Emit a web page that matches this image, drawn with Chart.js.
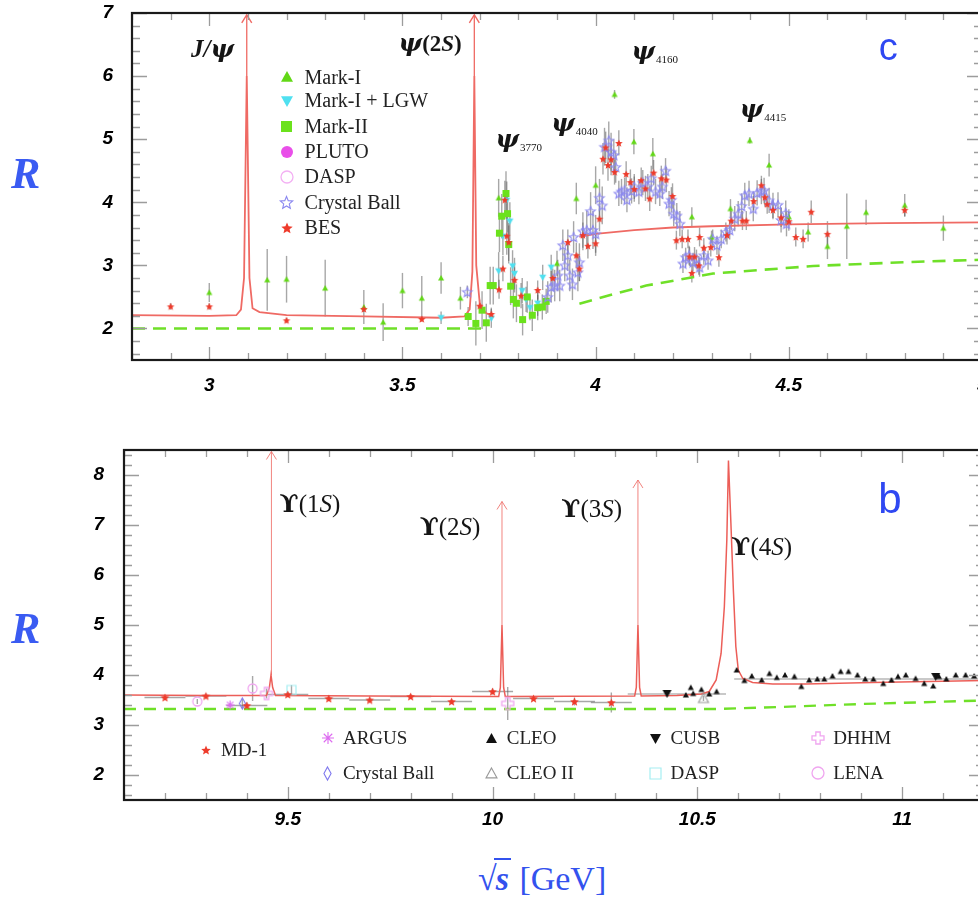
<!DOCTYPE html>
<html>
<head>
<meta charset="utf-8">
<script src="https://cdn.jsdelivr.net/npm/chart.js@4.4.1/dist/chart.umd.min.js"></script>
<style>
  html, body { margin: 0; padding: 0; background: #fff; width: 978px; height: 910px; overflow: hidden; }
  body { position: relative; }
  #graficoTopo { position: absolute; left: 0; top: 0; }
  #graficoBaixo { position: absolute; left: 0; top: 440px; }
  .letraR { position: absolute; left: 11px; font: bold italic 44px "Liberation Serif", serif; color: #3a5bf2; }
  #tituloX { position: absolute; left: 478px; top: 860px; font: 34px "Liberation Serif", serif; color: #3352ee; white-space: nowrap; }
  #tituloX .raiz { font-weight: bold; }
  #tituloX .s { font-weight: bold; font-style: italic; border-top: 2.5px solid #3352ee; margin-left: -3px; padding: 0 2px; }
</style>
</head>
<body>
<canvas id="graficoTopo" width="990" height="400"></canvas>
<canvas id="graficoBaixo" width="990" height="400"></canvas>
<div class="letraR" style="top:148px">R</div>
<div class="letraR" style="top:603px">R</div>
<div id="tituloX"><span class="raiz">√</span><span class="s">s</span> [GeV]</div>
<script>
// Eixos
var topXTicks = [3, 3.5, 4, 4.5, 5];
var topYTicks = [2, 3, 4, 5, 6, 7];
var bottomXTicks = [9.5, 10, 10.5, 11];
var bottomYTicks = [2, 3, 4, 5, 6, 7, 8];

// Painel de cima (charmonium): [sqrt(s), R, erro]
var markI = [[3.00,2.57,0.15],[3.15,2.77,0.49],[3.20,2.78,0.37],[3.30,2.64,0.45],[3.40,2.34,0.27],[3.45,2.10,0.30],
  [3.50,2.60,0.28],[3.55,2.48,0.35],[3.60,2.80,0.25],[3.65,2.48,0.18],[3.749,4.07,0.30],[3.90,3.03,0.20],[3.95,4.06,0.25],
  [4.00,4.27,0.30],[4.049,5.71,0.07],[4.099,4.96,0.20],[4.148,4.77,0.25],[4.249,3.77,0.15],[4.30,3.45,0.10],[4.349,3.90,0.15],
  [4.399,4.98,0.05],[4.449,4.59,0.18],[4.50,3.77,0.12],[4.55,3.53,0.15],[4.60,3.30,0.20],[4.65,3.62,0.52],[4.70,3.84,0.20],
  [4.80,3.95,0.18],[4.90,3.59,0.20]];
var markILGW = [[3.60,2.17,0.10],[3.73,2.16,0.15],[3.749,2.91,0.30],[3.76,3.46,0.30],[3.77,4.03,0.30],[3.778,3.70,0.30],
  [3.785,2.99,0.25],[3.79,2.87,0.25],[3.81,2.60,0.20],[3.82,2.46,0.20],[3.83,2.33,0.20],[3.85,2.40,0.20],[3.863,2.81,0.20],
  [3.885,2.97,0.20]];
var markII = [[3.67,2.19,0.15],[3.69,2.08,0.35],[3.706,2.29,0.30],[3.717,2.09,0.30],[3.727,2.68,0.30],[3.735,2.68,0.30],
  [3.751,3.51,0.30],[3.757,3.78,0.35],[3.768,4.14,0.35],[3.772,3.82,0.30],[3.775,3.33,0.30],[3.780,2.67,0.30],[3.787,2.46,0.30],
  [3.795,2.40,0.30],[3.811,2.14,0.25],[3.823,2.50,0.25],[3.836,2.21,0.25],[3.850,2.33,0.20],[3.862,2.34,0.20],[3.872,2.43,0.20]];
var pluto = [];
var dasp = [];
var crystalBall = [[3.668,2.58,0.10],[3.876,2.50,0.25],[3.885,2.66,0.25],[3.894,2.68,0.25],[3.902,2.84,0.25],[3.907,2.68,0.25],
  [3.915,3.32,0.25],[3.920,3.00,0.25],[3.928,3.16,0.25],[3.933,2.84,0.25],[3.940,2.70,0.25],[3.943,3.45,0.25],[3.954,2.89,0.30],
  [3.958,3.05,0.30],[3.967,3.54,0.30],[3.977,3.56,0.30],[3.987,3.86,0.30],[3.993,3.56,0.30],[4.000,3.50,0.30],[4.010,4.07,0.30],
  [4.017,3.95,0.30],[4.023,4.88,0.30],[4.034,4.98,0.30],[4.040,4.80,0.30],[4.047,4.75,0.25],[4.052,4.56,0.25],[4.060,4.14,0.20],
  [4.067,4.17,0.20],[4.075,4.19,0.20],[4.081,4.04,0.20],[4.093,4.18,0.20],[4.100,4.25,0.20],[4.112,4.17,0.20],[4.122,4.31,0.20],
  [4.135,4.25,0.20],[4.144,4.38,0.20],[4.155,4.17,0.20],[4.166,4.14,0.20],[4.173,4.25,0.20],[4.181,4.50,0.20],[4.190,3.98,0.20],
  [4.196,4.04,0.20],[4.202,3.82,0.20],[4.210,3.79,0.20],[4.218,3.66,0.20],[4.226,3.03,0.15],[4.233,3.13,0.15],[4.242,3.16,0.15],
  [4.252,3.05,0.15],[4.261,3.10,0.15],[4.269,2.97,0.15],[4.280,3.16,0.15],[4.291,3.08,0.15],[4.303,3.42,0.15],[4.314,3.32,0.15],
  [4.325,3.42,0.15],[4.337,3.53,0.15],[4.347,3.56,0.15],[4.360,3.74,0.20],[4.369,3.82,0.20],[4.378,3.94,0.20],[4.386,4.11,0.20],
  [4.397,4.14,0.20],[4.408,3.90,0.20],[4.418,4.15,0.20],[4.429,4.17,0.20],[4.436,4.19,0.20],[4.449,4.03,0.20],[4.459,3.95,0.20],
  [4.472,3.96,0.20],[4.480,3.72,0.20],[4.492,3.83,0.20],[4.494,3.66,0.20]];
var bes = [[2.90,2.35,0.05],[3.00,2.35,0.05],[3.20,2.13,0.04],[3.40,2.31,0.05],[3.55,2.15,0.04],[3.70,2.36,0.10],[3.73,2.23,0.10],
  [3.75,2.62,0.15],[3.76,2.95,0.20],[3.765,4.04,0.30],[3.77,3.47,0.30],[3.775,3.37,0.30],[3.79,2.77,0.20],[3.807,2.52,0.20],
  [3.85,2.61,0.15],[3.889,2.80,0.15],[3.928,3.37,0.20],[3.95,3.16,0.20],[3.958,2.95,0.20],[3.967,3.48,0.20],[3.98,3.31,0.20],
  [4.00,3.35,0.20],[4.01,3.74,0.20],[4.019,4.69,0.25],[4.026,4.87,0.25],[4.032,4.59,0.25],[4.04,4.68,0.25],[4.049,4.48,0.20],
  [4.06,4.94,0.20],[4.079,4.45,0.20],[4.09,4.32,0.20],[4.10,4.21,0.20],[4.118,4.35,0.20],[4.129,4.22,0.20],[4.14,4.06,0.20],
  [4.15,4.47,0.20],[4.17,4.38,0.20],[4.183,4.36,0.20],[4.199,4.10,0.20],[4.209,3.40,0.15],[4.224,3.42,0.15],[4.239,3.42,0.15],
  [4.243,3.14,0.15],[4.249,2.88,0.15],[4.256,3.14,0.15],[4.267,3.00,0.15],[4.269,3.45,0.15],[4.28,3.28,0.15],[4.298,3.29,0.15],
  [4.319,3.13,0.15],[4.34,3.48,0.15],[4.351,3.71,0.15],[4.38,3.71,0.15],[4.39,3.71,0.15],[4.409,4.02,0.15],[4.429,4.27,0.15],
  [4.438,4.08,0.15],[4.444,3.97,0.15],[4.459,3.88,0.15],[4.48,3.76,0.15],[4.50,3.70,0.15],[4.518,3.45,0.15],[4.537,3.42,0.15],
  [4.558,3.85,0.18],[4.60,3.50,0.20],[4.80,3.88,0.10]];
// curvas teoricas (null = interrupcao)
var topCurve = [[2.80,2.21],[3.00,2.20],[3.07,2.21],[3.082,2.30],[3.090,2.80],[3.097,6.00],[3.104,2.80],[3.112,2.32],[3.13,2.26],
  [3.20,2.21],[3.40,2.19],[3.60,2.17],[3.66,2.19],[3.674,2.30],[3.681,2.90],[3.686,6.00],[3.691,3.00],[3.700,2.40],[3.715,2.25],
  [3.73,2.20],[3.80,null],[3.958,3.45],[4.00,3.50],[4.10,3.56],[4.20,3.60],[4.30,3.62],[4.50,3.65],[4.75,3.67],[5.00,3.68]];
var topDashed = [[2.80,2.00],[3.717,2.00],[3.80,null],[3.958,2.39],[4.05,2.55],[4.131,2.68],[4.304,2.87],[4.563,2.99],[4.80,3.05],[5.00,3.09]];
var topArrows = [[3.097,6.0,6.97],[3.686,6.0,6.97]];

// Painel de baixo (bottomonium): [sqrt(s), R, erroY, erroX]
var md1 = [[9.20,3.55,0.05,0.05],[9.30,3.58,0.05,0.05],[9.40,3.39,0.06,0.05],[9.50,3.61,0.05,0.05],[9.60,3.53,0.05,0.05],
  [9.70,3.50,0.05,0.05],[9.80,3.57,0.05,0.05],[9.90,3.47,0.05,0.05],[10.00,3.67,0.06,0.05],[10.10,3.53,0.05,0.05],
  [10.20,3.47,0.08,0.05],[10.29,3.45,0.20,0.05]];
var argus = [[9.359,3.40,0.03]];
var crystalBallB = [[9.389,3.43,0.10]];
var cleo = [[10.472,3.60,0.03],[10.484,3.75,0.03],[10.490,3.63,0.03],[10.510,3.71,0.03],[10.529,3.62,0.03],[10.547,3.67,0.03],
  [10.596,4.10,0.03],[10.615,3.89,0.03],[10.633,3.98,0.03],[10.657,3.90,0.03],[10.676,4.03,0.03],[10.694,3.95,0.03],
  [10.714,4.00,0.03],[10.737,3.97,0.03],[10.754,3.77,0.03],[10.773,3.90,0.03],[10.793,3.92,0.03],[10.810,3.92,0.03],
  [10.830,3.98,0.03],[10.850,4.07,0.03],[10.869,4.07,0.03],[10.891,4.00,0.03],[10.910,3.92,0.03],[10.930,3.92,0.03],
  [10.954,3.83,0.03],[10.974,3.90,0.03],[10.990,3.97,0.03],[11.009,4.00,0.03],[11.033,3.93,0.03],[11.054,3.83,0.03],
  [11.076,3.78,0.03],[11.090,3.97,0.03],[11.108,3.92,0.03],[11.131,4.00,0.03],[11.155,4.00,0.03],[11.176,3.98,0.03]];
var cleoII = [[10.515,3.53,0.05]];
var cusb = [[10.426,3.63,0.05],[11.082,3.97,0.05]];
var daspB = [[9.509,3.70,0.10]];
var dhhm = [[9.448,3.63,0.10],[10.037,3.43,0.33]];
var lena = [[9.279,3.47,0.05],[9.414,3.73,0.25]];
var bottomCurve = [[9.10,3.60],[9.30,3.59],[9.448,3.59],[9.455,3.75],[9.459,4.00],[9.463,3.75],[9.470,3.59],[9.70,3.58],
  [10.015,3.57],[10.019,3.75],[10.023,5.00],[10.027,3.75],[10.031,3.57],[10.347,3.58],[10.351,3.75],[10.355,5.00],
  [10.359,3.75],[10.363,3.58],[10.45,3.59],[10.51,3.62],[10.529,3.67],[10.546,3.90],[10.558,4.43],[10.566,5.37],
  [10.572,6.70],[10.576,8.29],[10.582,7.03],[10.588,5.70],[10.594,4.57],[10.600,4.10],[10.611,3.93],[10.635,3.85],
  [10.684,3.82],[10.765,3.82],[10.928,3.85],[11.20,3.89]];
var bottomDashed = [[9.10,3.32],[10.55,3.32],[10.70,3.36],[10.90,3.42],[11.20,3.49]];
var bottomArrows = [[9.460,4.0,8.47],[10.023,5.0,7.47],[10.355,5.0,7.9]];
var bottomBands = [[10.33,10.57,3.62],[10.59,11.20,3.92]];

// Marcadores desenhados em canvas (usados como pointStyle)
function makeMarker(shape, size, fill, stroke, lw) {
  var c = document.createElement("canvas");
  c.width = c.height = Math.ceil(size + 4);
  var g = c.getContext("2d");
  var m = c.width / 2, r = size / 2, i, a;
  g.beginPath();
  if (shape == "star") {
    for (i = 0; i < 10; i++) {
      a = -Math.PI / 2 + i * Math.PI / 5;
      var rr = i % 2 ? r * 0.45 : r;
      g.lineTo(m + rr * Math.cos(a), m + 0.5 + rr * Math.sin(a));
    }
    g.closePath();
  } else if (shape == "tri") {
    g.moveTo(m, m - r); g.lineTo(m + r, m + r * 0.8); g.lineTo(m - r, m + r * 0.8); g.closePath();
  } else if (shape == "triDown") {
    g.moveTo(m, m + r); g.lineTo(m + r, m - r * 0.8); g.lineTo(m - r, m - r * 0.8); g.closePath();
  } else if (shape == "square") {
    g.rect(m - r, m - r, size, size);
  } else if (shape == "circle") {
    g.arc(m, m, r, 0, 2 * Math.PI);
  } else if (shape == "diamond") {
    g.moveTo(m, m - r); g.lineTo(m + r * 0.55, m); g.lineTo(m, m + r); g.lineTo(m - r * 0.55, m); g.closePath();
  } else if (shape == "plus") {
    var t = r * 0.36;
    g.moveTo(m - t, m - r); g.lineTo(m + t, m - r); g.lineTo(m + t, m - t); g.lineTo(m + r, m - t);
    g.lineTo(m + r, m + t); g.lineTo(m + t, m + t); g.lineTo(m + t, m + r); g.lineTo(m - t, m + r);
    g.lineTo(m - t, m + t); g.lineTo(m - r, m + t); g.lineTo(m - r, m - t); g.lineTo(m - t, m - t); g.closePath();
  } else if (shape == "asterisk") {
    for (i = 0; i < 4; i++) {
      a = i * Math.PI / 4;
      g.moveTo(m - r * Math.cos(a), m - r * Math.sin(a));
      g.lineTo(m + r * Math.cos(a), m + r * Math.sin(a));
    }
  }
  if (fill) { g.fillStyle = fill; g.fill(); }
  if (stroke) { g.strokeStyle = stroke; g.lineWidth = lw || 1; g.stroke(); }
  return c;
}

var cor = {
  markI: "#62d816", lgw: "#4fe0f0", markII: "#6be21c", pluto: "#e94fe9", dasp: "#f3b0f3",
  cb: "#8b88f0", bes: "#ee3b2b", argus: "#dd6cf0", cleoII: "#9a9a9a", daspB: "#a6eef2", dhhm: "#f0a6f0"
};

function pts(arr) {
  return arr.map(function (p) { return { x: p[0], y: p[1] }; });
}
function col(arr, k) {
  return arr.map(function (p) { return p[k] || 0; });
}
function linha(arr) {
  return arr.map(function (p) { return { x: p[0], y: p[1] }; });
}
function setas(arr) {
  var out = [];
  arr.forEach(function (a) {
    out.push({ x: a[0], y: a[1] }, { x: a[0], y: a[2] }, { x: a[0] + 0.001, y: null });
  });
  return out;
}
function faixas(arr) {
  var out = [];
  arr.forEach(function (b) {
    out.push({ x: b[0], y: b[2] }, { x: b[1], y: b[2] }, { x: b[1] + 0.001, y: null });
  });
  return out;
}
function pontos(label, arr, marker, comErroX) {
  return {
    label: label, data: pts(arr), errY: col(arr, 2), errX: comErroX ? col(arr, 3) : null,
    pointStyle: marker, pointRadius: 3, showLine: false
  };
}

// Plugin: barras de erro
var barrasErro = {
  id: "barrasErro",
  beforeDatasetsDraw: function (chart) {
    var ctx = chart.ctx, xs = chart.scales.x, ys = chart.scales.y, a = chart.chartArea;
    ctx.save();
    ctx.beginPath(); ctx.rect(a.left, a.top, a.width, a.height); ctx.clip();
    ctx.strokeStyle = "rgba(95,95,95,0.55)";
    ctx.lineWidth = 1.4;
    chart.data.datasets.forEach(function (ds) {
      if (!ds.errY) return;
      ds.data.forEach(function (p, i) {
        var px = xs.getPixelForValue(p.x), py = ys.getPixelForValue(p.y);
        var ey = ds.errY[i], ex = ds.errX ? ds.errX[i] : 0;
        ctx.beginPath();
        if (ey) { ctx.moveTo(px, ys.getPixelForValue(p.y - ey)); ctx.lineTo(px, ys.getPixelForValue(p.y + ey)); }
        if (ex) { ctx.moveTo(xs.getPixelForValue(p.x - ex), py); ctx.lineTo(xs.getPixelForValue(p.x + ex), py); }
        ctx.stroke();
      });
    });
    ctx.restore();
  }
};

// Plugin: moldura com marcas para dentro
var moldura = {
  id: "moldura",
  afterDraw: function (chart, args, opts) {
    var ctx = chart.ctx, a = chart.chartArea, xs = chart.scales.x, ys = chart.scales.y, k, v, p, len;
    function ehMaior(lista, val) {
      return lista.some(function (t) { return Math.abs(t - val) < 1e-6; });
    }
    ctx.save();
    ctx.strokeStyle = "#9c9c9c";
    ctx.lineWidth = 1.3;
    ctx.beginPath();
    for (k = Math.ceil(xs.min / opts.xMinor - 1e-6); k * opts.xMinor <= xs.max + 1e-6; k++) {
      v = k * opts.xMinor;
      p = Math.round(xs.getPixelForValue(v)) + 0.5;
      len = ehMaior(opts.xMajor, v) ? 13 : 7;
      ctx.moveTo(p, a.top); ctx.lineTo(p, a.top + len);
      ctx.moveTo(p, a.bottom); ctx.lineTo(p, a.bottom - len);
    }
    for (k = Math.ceil(ys.min / opts.yMinor - 1e-6); k * opts.yMinor <= ys.max + 1e-6; k++) {
      v = k * opts.yMinor;
      p = Math.round(ys.getPixelForValue(v)) + 0.5;
      len = ehMaior(opts.yMajor, v) ? 15 : 8;
      ctx.moveTo(a.left, p); ctx.lineTo(a.left + len, p);
      ctx.moveTo(a.right, p); ctx.lineTo(a.right - len, p);
    }
    ctx.stroke();
    ctx.strokeStyle = "#1a1a1a";
    ctx.lineWidth = 2.2;
    ctx.strokeRect(a.left, a.top, a.right - a.left, a.bottom - a.top);
    ctx.restore();
  }
};

// Plugin: textos, setas e legenda dentro da area
var anotacoes = {
  id: "anotacoes",
  afterDatasetsDraw: function (chart, args, opts) {
    var ctx = chart.ctx, xs = chart.scales.x, ys = chart.scales.y;
    ctx.save();
    ctx.textBaseline = "alphabetic";
    ctx.textAlign = "left";
    opts.notes.forEach(function (n) {
      var x = xs.getPixelForValue(n.x), y = ys.getPixelForValue(n.y);
      ctx.fillStyle = n.color || "#151515";
      n.parts.forEach(function (p) {
        ctx.font = p[1];
        ctx.fillText(p[0], x, y + (p[2] || 0));
        x += ctx.measureText(p[0]).width + (p[3] || 0);
      });
    });
    ctx.strokeStyle = opts.arrowColor;
    ctx.lineWidth = opts.arrowWidth;
    opts.arrows.forEach(function (s) {
      var x = xs.getPixelForValue(s[0]), y = ys.getPixelForValue(s[2]);
      ctx.beginPath();
      ctx.moveTo(x - 5, y + 8); ctx.lineTo(x, y); ctx.lineTo(x + 5, y + 8);
      ctx.stroke();
    });
    ctx.fillStyle = "#222";
    ctx.textBaseline = "middle";
    ctx.font = opts.legendFont;
    opts.legend.forEach(function (it) {
      var px = xs.getPixelForValue(it.x), py = ys.getPixelForValue(it.y);
      ctx.drawImage(it.marker, Math.round(px - it.marker.width / 2), Math.round(py - it.marker.height / 2));
      ctx.fillText(it.text, px + opts.legendGap, py + 1);
    });
    ctx.restore();
  }
};

function eixoX(min, max, ticks, altura, padding) {
  return {
    type: "linear", min: min, max: max,
    grid: { display: false }, border: { display: false },
    afterBuildTicks: function (s) { s.ticks = ticks.map(function (v) { return { value: v }; }); },
    afterFit: function (s) { s.height = altura; s.paddingLeft = 0; s.paddingRight = 0; },
    ticks: {
      color: "#000", padding: padding, maxRotation: 0, autoSkip: false,
      font: { family: "Liberation Sans", size: 19, style: "italic", weight: "bold" },
      callback: function (v) { return String(v); }
    }
  };
}
function eixoY(min, max, ticks, largura, padding) {
  return {
    type: "linear", min: min, max: max,
    grid: { display: false }, border: { display: false },
    afterBuildTicks: function (s) { s.ticks = ticks.map(function (v) { return { value: v }; }); },
    afterFit: function (s) { s.width = largura; s.paddingTop = 0; s.paddingBottom = 0; },
    ticks: {
      color: "#000", padding: padding,
      font: { family: "Liberation Sans", size: 19, style: "italic", weight: "bold" },
      callback: function (v) { return String(v); }
    }
  };
}

var fPsi = "bold italic 25px 'DejaVu Serif'";
var fSub = "11px 'Liberation Serif'";
var fPar = "bold 23px 'Liberation Serif'";
var fS = "bold italic 23px 'Liberation Serif'";
var fUps = "bold 25px 'DejaVu Serif'";
var fUpsPar = "25px 'Liberation Serif'";
var fUpsS = "italic 25px 'Liberation Serif'";

// Primeiro grafico - charmonium
var mkTop = {
  markI: makeMarker("tri", 6, cor.markI), lgw: makeMarker("triDown", 7, cor.lgw), markII: makeMarker("square", 7, cor.markII),
  pluto: makeMarker("circle", 7, cor.pluto), dasp: makeMarker("circle", 7, null, cor.dasp, 1.2),
  cb: makeMarker("star", 10, null, cor.cb, 1.1), bes: makeMarker("star", 8, cor.bes)
};
new Chart(document.getElementById("graficoTopo").getContext("2d"), {
  type: "scatter",
  data: {
    datasets: [
      pontos("BES", bes, mkTop.bes),
      pontos("Crystal Ball", crystalBall, mkTop.cb),
      pontos("DASP", dasp, mkTop.dasp),
      pontos("PLUTO", pluto, mkTop.pluto),
      pontos("Mark-II", markII, mkTop.markII),
      pontos("Mark-I + LGW", markILGW, mkTop.lgw),
      pontos("Mark-I", markI, mkTop.markI),
      { label: "curva", data: linha(topCurve), showLine: true, pointRadius: 0, borderColor: "#ef6a64", borderWidth: 1.8, spanGaps: false },
      { label: "setas", data: setas(topArrows), showLine: true, pointRadius: 0, borderColor: "#ef6a64", borderWidth: 1.3, spanGaps: false },
      { label: "tracejada", data: linha(topDashed), showLine: true, pointRadius: 0, borderColor: "#6fe028", borderWidth: 2.6, borderDash: [13, 8], spanGaps: false }
    ]
  },
  options: {
    responsive: false, animation: false, events: [],
    layout: { padding: { top: 13, right: 8, left: 0, bottom: 0 } },
    scales: { x: eixoX(2.8, 5.0, topXTicks, 40, 6), y: eixoY(1.5, 7.0, topYTicks, 132, 11) },
    plugins: {
      legend: { display: false }, tooltip: { enabled: false },
      moldura: { xMinor: 0.1, yMinor: 0.2, xMajor: topXTicks, yMajor: topYTicks },
      anotacoes: {
        arrowColor: "#ef6a64", arrowWidth: 1.4, legendFont: "20px 'Liberation Serif'", legendGap: 18,
        arrows: topArrows,
        notes: [
          { x: 2.953, y: 6.30, parts: [["J/", "bold italic 25px 'Liberation Serif'"], ["ψ", fPsi]] },
          { x: 3.490, y: 6.40, parts: [["ψ", fPsi], ["(2", fPar], ["S", fS], [")", fPar]] },
          { x: 3.741, y: 4.87, parts: [["ψ", fPsi, 0, 1], ["3770", fSub, 4]] },
          { x: 3.885, y: 5.13, parts: [["ψ", fPsi, 0, 1], ["4040", fSub, 4]] },
          { x: 4.093, y: 6.27, parts: [["ψ", fPsi, 0, 1], ["4160", fSub, 4]] },
          { x: 4.373, y: 5.35, parts: [["ψ", fPsi, 0, 1], ["4415", fSub, 4]] },
          { x: 4.733, y: 6.25, color: "#2f48f2", parts: [["c", "38px 'Liberation Sans'"]] }
        ],
        legend: [
          { x: 3.2, y: 5.98, text: "Mark-I", marker: makeMarker("tri", 12, cor.markI) },
          { x: 3.2, y: 5.61, text: "Mark-I + LGW", marker: makeMarker("triDown", 12, cor.lgw) },
          { x: 3.2, y: 5.20, text: "Mark-II", marker: makeMarker("square", 11, cor.markII) },
          { x: 3.2, y: 4.80, text: "PLUTO", marker: makeMarker("circle", 12, cor.pluto) },
          { x: 3.2, y: 4.40, text: "DASP", marker: makeMarker("circle", 12, null, cor.dasp, 1.3) },
          { x: 3.2, y: 4.00, text: "Crystal Ball", marker: makeMarker("star", 13, null, cor.cb, 1.1) },
          { x: 3.2, y: 3.60, text: "BES", marker: makeMarker("star", 12, cor.bes) }
        ]
      }
    }
  },
  plugins: [barrasErro, moldura, anotacoes]
});

// Segundo grafico - bottomonium
var mkBot = {
  md1: makeMarker("star", 9, cor.bes), argus: makeMarker("asterisk", 9, null, cor.argus, 1.1),
  cb: makeMarker("diamond", 11, null, "#7f78ee", 1.1), cleo: makeMarker("tri", 6, "#111"),
  cleoII: makeMarker("tri", 10, null, cor.cleoII, 1.1), cusb: makeMarker("triDown", 9, "#111"),
  dasp: makeMarker("square", 9, null, cor.daspB, 1.2), dhhm: makeMarker("plus", 12, null, cor.dhhm, 1.3),
  lena: makeMarker("circle", 9, null, cor.dhhm, 1.3)
};
new Chart(document.getElementById("graficoBaixo").getContext("2d"), {
  type: "scatter",
  data: {
    datasets: [
      pontos("MD-1", md1, mkBot.md1, true),
      pontos("ARGUS", argus, mkBot.argus),
      pontos("Crystal Ball", crystalBallB, mkBot.cb),
      pontos("CLEO", cleo, mkBot.cleo),
      pontos("CLEO II", cleoII, mkBot.cleoII),
      pontos("CUSB", cusb, mkBot.cusb),
      pontos("DASP", daspB, mkBot.dasp),
      pontos("DHHM", dhhm, mkBot.dhhm),
      pontos("LENA", lena, mkBot.lena),
      { label: "curva", data: linha(bottomCurve), showLine: true, pointRadius: 0, borderColor: "#ec5e58", borderWidth: 1.5 },
      { label: "setas", data: setas(bottomArrows), showLine: true, pointRadius: 0, borderColor: "rgba(238,110,105,0.85)", borderWidth: 1, spanGaps: false },
      { label: "faixas", data: faixas(bottomBands), showLine: true, pointRadius: 0, borderColor: "#b8b8b8", borderWidth: 1.5, spanGaps: false },
      { label: "tracejada", data: linha(bottomDashed), showLine: true, pointRadius: 0, borderColor: "#6fe028", borderWidth: 2.4, borderDash: [12, 8] }
    ]
  },
  options: {
    responsive: false, animation: false, events: [],
    layout: { padding: { top: 10, right: 6, left: 0, bottom: 0 } },
    scales: { x: eixoX(9.1, 11.2, bottomXTicks, 40, 0), y: eixoY(1.5, 8.5, bottomYTicks, 124, 12) },
    plugins: {
      legend: { display: false }, tooltip: { enabled: false },
      moldura: { xMinor: 0.1, yMinor: 0.2, xMajor: bottomXTicks, yMajor: bottomYTicks },
      anotacoes: {
        arrowColor: "rgba(238,110,105,0.85)", arrowWidth: 1, legendFont: "19px 'Liberation Serif'", legendGap: 15,
        arrows: bottomArrows,
        notes: [
          { x: 9.480, y: 7.26, parts: [["ϒ", fUps], ["(1", fUpsPar], ["S", fUpsS], [")", fUpsPar]] },
          { x: 9.822, y: 6.80, parts: [["ϒ", fUps], ["(2", fUpsPar], ["S", fUpsS], [")", fUpsPar]] },
          { x: 10.168, y: 7.16, parts: [["ϒ", fUps], ["(3", fUpsPar], ["S", fUpsS], [")", fUpsPar]] },
          { x: 10.583, y: 6.40, parts: [["ϒ", fUps], ["(4", fUpsPar], ["S", fUpsS], [")", fUpsPar]] },
          { x: 10.942, y: 7.24, color: "#2f48f2", parts: [["b", "42px 'Liberation Sans'"]] }
        ],
        legend: [
          { x: 9.30, y: 2.50, text: "MD-1", marker: makeMarker("star", 10, cor.bes) },
          { x: 9.598, y: 2.74, text: "ARGUS", marker: makeMarker("asterisk", 12, null, cor.argus, 1.1) },
          { x: 9.598, y: 2.04, text: "Crystal Ball", marker: makeMarker("diamond", 13, null, "#7f78ee", 1.1) },
          { x: 9.998, y: 2.74, text: "CLEO", marker: makeMarker("tri", 11, "#111") },
          { x: 9.998, y: 2.04, text: "CLEO II", marker: makeMarker("tri", 11, null, cor.cleoII, 1.1) },
          { x: 10.398, y: 2.74, text: "CUSB", marker: makeMarker("triDown", 11, "#111") },
          { x: 10.398, y: 2.04, text: "DASP", marker: makeMarker("square", 11, null, cor.daspB, 1.2) },
          { x: 10.795, y: 2.74, text: "DHHM", marker: makeMarker("plus", 12, null, cor.dhhm, 1.3) },
          { x: 10.795, y: 2.04, text: "LENA", marker: makeMarker("circle", 12, null, cor.dhhm, 1.3) }
        ]
      }
    }
  },
  plugins: [barrasErro, moldura, anotacoes]
});
</script>
</body>
</html>
